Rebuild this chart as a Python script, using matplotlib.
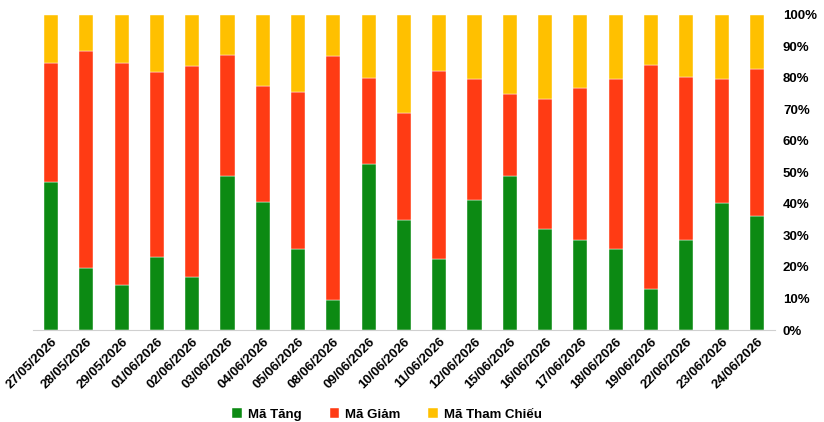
import matplotlib.pyplot as plt
import numpy as np
from matplotlib.ticker import PercentFormatter

dates = ["27/05/2026", "28/05/2026", "29/05/2026", "01/06/2026", "02/06/2026",
         "03/06/2026", "04/06/2026", "05/06/2026", "08/06/2026", "09/06/2026",
         "10/06/2026", "11/06/2026", "12/06/2026", "15/06/2026", "16/06/2026",
         "17/06/2026", "18/06/2026", "19/06/2026", "22/06/2026", "23/06/2026",
         "24/06/2026"]
# share of codes (%) per session
tang = [47.1, 19.6, 14.3, 23.1, 16.9, 49.0, 40.5, 25.8, 9.4, 52.8, 34.8,
        22.4, 41.2, 49.0, 32.2, 28.5, 25.6, 12.9, 28.5, 40.2, 36.2]
giam = [37.5, 69.0, 70.5, 58.7, 67.0, 38.2, 37.1, 49.6, 77.7, 27.3, 34.1,
        59.9, 38.6, 26.0, 41.1, 48.2, 54.2, 71.2, 51.9, 39.6, 46.8]
tham_chieu = [100 - a - b for a, b in zip(tang, giam)]

labels = ["Mã Tăng", "Mã Giảm", "Mã Tham Chiếu"]
colors = ["#0C8A13", "#FF3B14", "#FFC000"]

plt.rcParams['font.family'] = ['Liberation Sans', 'DejaVu Sans']

fig = plt.figure(figsize=(8.24, 4.22), dpi=100)
ax = fig.add_axes([0.0405, 0.218, 0.8995, 0.7465])

x = np.arange(len(dates))
w = 0.4
ax.bar(x, tang, w, color=colors[0], label=labels[0], edgecolor="white", linewidth=0.3)
ax.bar(x, giam, w, bottom=tang, color=colors[1], label=labels[1], edgecolor="white", linewidth=0.3)
ax.bar(x, tham_chieu, w, bottom=np.add(tang, giam), color=colors[2], label=labels[2],
       edgecolor="white", linewidth=0.3)

ax.set_xlim(-0.5, len(dates) - 0.5)
ax.set_ylim(0, 100)
ax.set_yticks(np.arange(0, 101, 10))
ax.yaxis.set_major_formatter(PercentFormatter(decimals=0))
ax.yaxis.tick_right()
ax.tick_params(axis='y', length=0, pad=6, labelsize=9.5)
ax.set_xticks(x)
ax.set_xticklabels(dates, rotation=45, ha='right', rotation_mode='anchor', fontsize=9.5)
ax.tick_params(axis='x', length=0, pad=4)
for t in ax.get_xticklabels() + ax.get_yticklabels():
    t.set_fontweight('bold')

for s in ['top', 'left', 'right']:
    ax.spines[s].set_visible(False)
ax.spines['bottom'].set_color('#d0d0d0')

leg = fig.legend(loc='center', bbox_to_anchor=(0.47, 0.018), ncol=3, frameon=False,
                 handlelength=0.7, handleheight=0.7, columnspacing=2.1, handletextpad=0.5,
                 prop={'weight': 'bold', 'size': 9.5})

fig.savefig("out.png", dpi=100)
